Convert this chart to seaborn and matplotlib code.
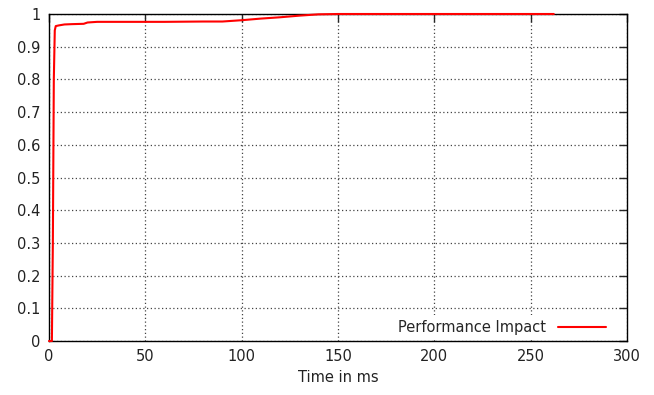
import matplotlib
matplotlib.use("Agg")
import matplotlib.pyplot as plt
import numpy as np
import pandas as pd
import seaborn as sb

# CDF of performance impact
time_ms = [0, 1.5, 2.0, 2.5, 3.0, 3.5, 5, 8, 12, 18, 20, 25, 40, 60, 80, 90, 95, 100, 110, 120, 130, 140, 150, 200, 262]
cdf = [0, 0, 0.3, 0.8, 0.95, 0.963, 0.965, 0.968, 0.969, 0.970, 0.974, 0.976, 0.976, 0.976, 0.977, 0.977, 0.979, 0.981, 0.986, 0.990, 0.995, 0.999, 1.0, 1.0, 1.0]

if __name__ == "__main__":
    sb.set_style("white")
    plt.rcParams["font.family"] = ["DejaVu Sans"]
    fig = plt.figure(figsize=(6.54, 3.95), dpi=100)
    ax = fig.add_axes([49 / 654, 1 - 341 / 395, (627 - 49) / 654, (341 - 14) / 395])

    df = pd.DataFrame({"Time in ms": time_ms, "cdf": cdf})
    sb.lineplot(data=df, x="Time in ms", y="cdf", color="red", linewidth=1.5,
                label="Performance Impact", ax=ax, zorder=5)
    for ln in ax.lines:
        ln.set_clip_on(False)

    ax.set_xlim(0, 300)
    ax.set_ylim(0, 1)
    ax.set_xticks(np.arange(0, 301, 50))
    ax.set_yticks(np.arange(0, 1.01, 0.1))
    ax.set_yticklabels(["0"] + [f"{v:.1f}" for v in np.arange(0.1, 1.0, 0.1)] + ["1"])
    ax.set_ylabel("")
    ax.set_xlabel("Time in ms", fontsize=10.5, color="#222222")
    ax.tick_params(direction="in", length=6, width=1, top=True, right=True,
                   labelsize=10.5, labelcolor="#222222", pad=6)
    ax.grid(True, linestyle=(0, (1, 2)), color="#444444", linewidth=0.9)
    ax.set_axisbelow(True)
    for s in ax.spines.values():
        s.set_color("black")
        s.set_linewidth(1)
        s.set_zorder(4)

    # gnuplot style key: opaque box without a border
    leg = ax.legend(loc="lower right", frameon=True, fancybox=False,
                    facecolor="white", edgecolor="none", framealpha=1,
                    fontsize=10.5, markerfirst=False, handlelength=3.3,
                    handletextpad=0.8, borderpad=0.3, borderaxespad=0,
                    bbox_to_anchor=(0.971, 0.006))
    leg.set_zorder(0.6)

    plt.savefig("out.png", dpi=100)
